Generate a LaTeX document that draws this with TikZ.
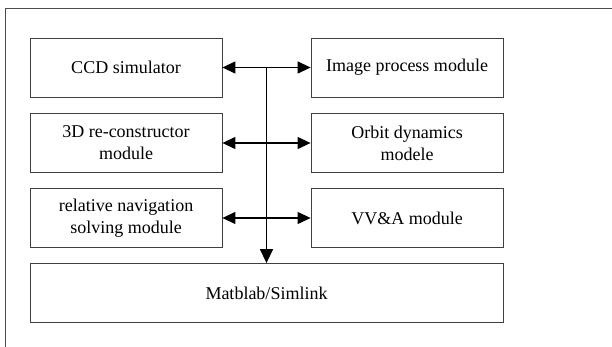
\documentclass[tikz,border=0pt]{standalone}
\usepackage{fontspec}
\setmainfont{Liberation Serif}
\usetikzlibrary{arrows.meta}

\tikzset{
  module/.style={draw=black!75, line width=0.8pt, minimum width=192pt, minimum height=59pt,
    align=center, font=\fontsize{18}{22}\selectfont, inner sep=2pt},
  link/.style={line width=1.2pt, {Triangle[length=13pt,width=12pt]}-{Triangle[length=13pt,width=12pt]}},
  feed/.style={line width=1.4pt, -{Triangle[length=14pt,width=13pt]}}
}

\begin{document}
\begin{tikzpicture}[x=1pt, y=-1pt]
        \useasboundingbox (0,0) rectangle (612,347);

        % Outer frame (cut at right and bottom)
        \draw[black!70, line width=0.8pt] (5,347) -- (5,8) -- (612,8);

        % Left column
        \node[module] (ccd) at (126,67.5) {CCD simulator};
        \node[module] (recon) at (126,143) {3D re-constructor\\module};
        \node[module] (nav) at (126,218) {relative navigation\\solving module};

        % Right column
        \node[module] (image) at (407,67.5) {Image process module};
        \node[module] (orbit) at (407,143) {Orbit dynamics\\modele};
        \node[module] (vva) at (407,218) {VV\&A module};

        % Platform
        \node[module, minimum width=473pt] (matlab) at (266.5,293) {Matblab/Simlink};

        % Bus between the columns
        \draw[link] (ccd) -- (image) coordinate[midway] (bus);
        \draw[link] (recon) -- (orbit);
        \draw[link] (nav) -- (vva);
        \draw[feed] (bus) -- (bus |- matlab.north);
    \end{tikzpicture}
\end{document}
